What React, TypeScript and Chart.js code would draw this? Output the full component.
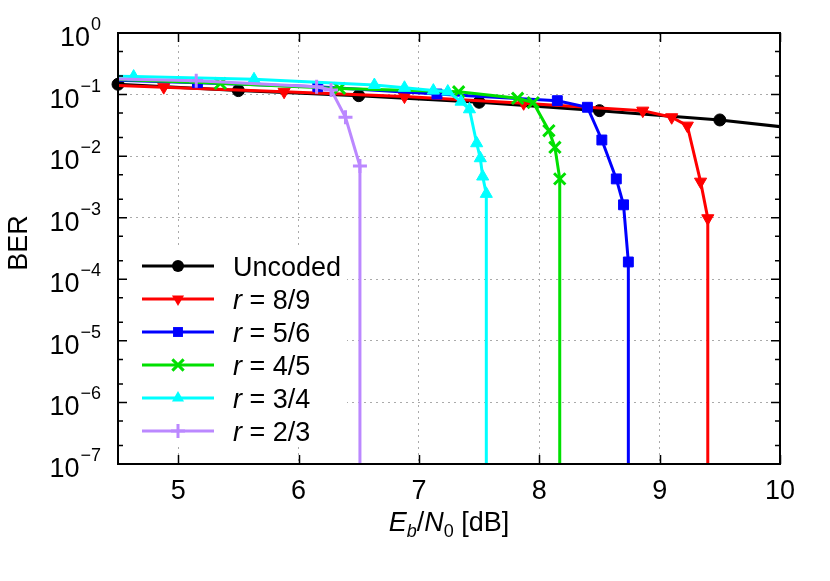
import React, { useEffect, useRef } from 'react';
import { Chart, registerables } from 'chart.js';

Chart.register(...registerables);

const FONT = '"Liberation Sans", Arial, Helvetica, sans-serif';

// ---- axis ticks ----
const xTickValues = [5, 6, 7, 8, 9, 10];
const yDecadeExponents = [-7, -6, -5, -4, -3, -2, -1, 0];
const yMinorMultipliers = [2, 5];

// BER reported where no errors were observed (below the plotted range)
const NO_ERRORS = 1e-10;

// ---- series (Eb/N0 in dB, BER) ----
const uncodedEbN0 = [4.5, 5.5, 6.5, 7.5, 8.5, 9.5, 10.5];
const uncodedBER = [0.147, 0.116, 0.096, 0.075, 0.0548, 0.0387, 0.0235];

const r89EbN0 = [3.88, 4.88, 5.88, 6.88, 7.87, 8.86, 9.1, 9.23, 9.34, 9.4, 9.4];
const r89BER = [0.157, 0.132, 0.111, 0.0927, 0.0722, 0.0548, 0.0428, 0.0313, 0.00385, 0.00098, NO_ERRORS];

const r56EbN0 = [4.15, 5.16, 6.16, 7.15, 8.15, 8.4, 8.52, 8.64, 8.7, 8.74, 8.74];
const r56BER = [0.18, 0.156, 0.134, 0.102, 0.0796, 0.0622, 0.0183, 0.00427, 0.00162, 0.000191, NO_ERRORS];

const r45EbN0 = [4.35, 5.35, 6.34, 7.33, 7.82, 7.95, 8.08, 8.13, 8.17, 8.17];
const r45BER = [0.18, 0.152, 0.126, 0.111, 0.087, 0.074, 0.0259, 0.0139, 0.00427, NO_ERRORS];

const r34EbN0 = [3.63, 4.63, 5.63, 6.63, 6.88, 7.12, 7.24, 7.35, 7.42, 7.48, 7.51, 7.53, 7.56, 7.56];
const r34BER = [0.22, 0.196, 0.177, 0.143, 0.129, 0.116, 0.112, 0.0767, 0.0577, 0.0162, 0.00925, 0.00467, 0.00244, NO_ERRORS];

const r23EbN0 = [4.15, 5.15, 6.15, 6.27, 6.39, 6.51, 6.51];
const r23BER = [0.185, 0.168, 0.134, 0.119, 0.0428, 0.00693, NO_ERRORS];

const seriesLabels = ['Uncoded', '8/9', '5/6', '4/5', '3/4', '2/3'];
const seriesColors = ['#000000', '#ff0000', '#0000ff', '#00e000', '#00ffff', '#bb88ff'];
const seriesStyles = ['circle', 'triangleDown', 'rect', 'crossRot', 'triangle', 'cross'];
const seriesRadius = [6, 7, 7, 8, 7, 7];

const seriesX = [uncodedEbN0, r89EbN0, r56EbN0, r45EbN0, r34EbN0, r23EbN0];
const seriesY = [uncodedBER, r89BER, r56BER, r45BER, r34BER, r23BER];

const TICK_PX = 27;
const EXP_PX = 18;

function drawMarker(ctx: CanvasRenderingContext2D, style: string, x: number, y: number, r: number, color: string) {
  ctx.save();
  ctx.fillStyle = color;
  ctx.strokeStyle = color;
  ctx.lineWidth = 3;
  ctx.beginPath();
  if (style === 'circle') {
    ctx.arc(x, y, r, 0, Math.PI * 2);
    ctx.fill();
  } else if (style === 'triangle') {
    ctx.moveTo(x, y - r);
    ctx.lineTo(x + r * 0.866, y + r / 2);
    ctx.lineTo(x - r * 0.866, y + r / 2);
    ctx.closePath();
    ctx.fill();
  } else if (style === 'triangleDown') {
    ctx.moveTo(x, y + r);
    ctx.lineTo(x + r * 0.866, y - r / 2);
    ctx.lineTo(x - r * 0.866, y - r / 2);
    ctx.closePath();
    ctx.fill();
  } else if (style === 'rect') {
    const s = r * Math.SQRT1_2;
    ctx.rect(x - s, y - s, 2 * s, 2 * s);
    ctx.fill();
  } else if (style === 'crossRot') {
    const d = r * Math.SQRT1_2;
    ctx.moveTo(x - d, y - d);
    ctx.lineTo(x + d, y + d);
    ctx.moveTo(x + d, y - d);
    ctx.lineTo(x - d, y + d);
    ctx.stroke();
  } else if (style === 'cross') {
    ctx.moveTo(x - r, y);
    ctx.lineTo(x + r, y);
    ctx.moveTo(x, y - r);
    ctx.lineTo(x, y + r);
    ctx.stroke();
  }
  ctx.restore();
}

const extrasPlugin = {
  id: 'extras',
  afterDatasetsDraw(chart: any) {
    const ctx: CanvasRenderingContext2D = chart.ctx;
    const { left } = chart.chartArea;
    // legend (opaque key box)
    ctx.save();
    ctx.fillStyle = '#ffffff';
    ctx.fillRect(left + 1, 247, 346 - left, 200);
    const rowY0 = 266;
    const rowStep = 33;
    seriesLabels.forEach((lab, i) => {
      const y = rowY0 + i * rowStep;
      ctx.strokeStyle = seriesColors[i];
      ctx.lineWidth = 3;
      ctx.beginPath();
      ctx.moveTo(142, y);
      ctx.lineTo(214, y);
      ctx.stroke();
      drawMarker(ctx, seriesStyles[i], 178, y, seriesRadius[i], seriesColors[i]);
      ctx.fillStyle = '#000';
      ctx.textBaseline = 'alphabetic';
      ctx.textAlign = 'left';
      const base = y + 10;
      if (i === 0) {
        ctx.font = `27px ${FONT}`;
        ctx.fillText(lab, 233, base);
      } else {
        ctx.font = `italic 27px ${FONT}`;
        ctx.fillText('r', 233, base);
        const w = ctx.measureText('r').width;
        ctx.font = `27px ${FONT}`;
        ctx.fillText(' = ' + lab, 233 + w, base);
      }
    });
    ctx.restore();
  },
  afterDraw(chart: any) {
    const ctx: CanvasRenderingContext2D = chart.ctx;
    const { left, right, top, bottom } = chart.chartArea;
    const xs = chart.scales.x;
    const ys = chart.scales.y;
    ctx.save();
    // tick marks (inward)
    ctx.strokeStyle = '#000';
    ctx.lineWidth = 1.5;
    ctx.beginPath();
    xTickValues.forEach((v) => {
      const px = Math.round(xs.getPixelForValue(v)) + 0.5;
      ctx.moveTo(px, bottom);
      ctx.lineTo(px, bottom - 9);
      ctx.moveTo(px, top);
      ctx.lineTo(px, top + 9);
    });
    yDecadeExponents.forEach((e) => {
      const py = ys.getPixelForValue(Math.pow(10, e));
      ctx.moveTo(left, py);
      ctx.lineTo(left + 9, py);
      ctx.moveTo(right, py);
      ctx.lineTo(right - 9, py);
      if (e < 0) {
        yMinorMultipliers.forEach((m) => {
          const pm = ys.getPixelForValue(m * Math.pow(10, e));
          ctx.moveTo(left, pm);
          ctx.lineTo(left + 5, pm);
          ctx.moveTo(right, pm);
          ctx.lineTo(right - 5, pm);
        });
      }
    });
    ctx.stroke();
    // frame
    ctx.lineWidth = 2;
    ctx.strokeRect(left, top, right - left, bottom - top);

    // y tick labels 10^e
    ctx.fillStyle = '#000';
    ctx.textBaseline = 'alphabetic';
    ctx.textAlign = 'left';
    const labelRight = 101;
    yDecadeExponents.forEach((e) => {
      const py = ys.getPixelForValue(Math.pow(10, e));
      const expText = e < 0 ? '\u2212' + String(-e) : String(e);
      ctx.font = `${EXP_PX}px ${FONT}`;
      const ew = ctx.measureText(expText).width;
      ctx.font = `${TICK_PX}px ${FONT}`;
      const bw = ctx.measureText('10').width;
      const bx = labelRight - ew - bw - 1;
      ctx.fillText('10', bx, py + 13);
      ctx.font = `${EXP_PX}px ${FONT}`;
      ctx.fillText(expText, bx + bw + 1, py - 3);
    });

    // x axis title: E_b/N_0 [dB]
    const pieces = [
      { t: 'E', f: `italic ${TICK_PX}px ${FONT}`, dy: 0 },
      { t: 'b', f: `italic ${EXP_PX}px ${FONT}`, dy: 6 },
      { t: '/', f: `${TICK_PX}px ${FONT}`, dy: 0 },
      { t: 'N', f: `italic ${TICK_PX}px ${FONT}`, dy: 0 },
      { t: '0', f: `${EXP_PX}px ${FONT}`, dy: 6 },
      { t: ' [dB]', f: `${TICK_PX}px ${FONT}`, dy: 0 },
    ];
    let total = 0;
    const widths = pieces.map((p) => {
      ctx.font = p.f;
      const w = ctx.measureText(p.t).width;
      total += w;
      return w;
    });
    let cx = (left + right) / 2 - total / 2;
    const baseY = 531;
    pieces.forEach((p, i) => {
      ctx.font = p.f;
      ctx.fillText(p.t, cx, baseY + p.dy);
      cx += widths[i];
    });

    // y axis title
    ctx.translate(20, 243);
    ctx.rotate(-Math.PI / 2);
    ctx.font = `${TICK_PX}px ${FONT}`;
    ctx.textAlign = 'center';
    ctx.textBaseline = 'middle';
    ctx.fillText('BER', 0, 0);
    ctx.restore();
  },
};

function buildDatasets() {
  const orders = [5, 4, 3, 2, 1, 0];
  return seriesLabels.map((lab, i) => {
    const style = seriesStyles[i];
    const isCross = style === 'cross' || style === 'crossRot';
    const chartStyle = style === 'triangleDown' ? 'triangle' : style;
    return {
      label: i === 0 ? lab : 'r = ' + lab,
      data: seriesX[i].map((x, k) => ({ x, y: seriesY[i][k] })),
      borderColor: seriesColors[i],
      backgroundColor: seriesColors[i],
      borderWidth: 3,
      tension: 0,
      pointStyle: chartStyle,
      pointRotation: style === 'triangleDown' ? 180 : 0,
      pointRadius: seriesRadius[i],
      pointBackgroundColor: seriesColors[i],
      pointBorderColor: seriesColors[i],
      pointBorderWidth: isCross ? 3 : 1,
      order: orders[i],
      clip: i === 0 ? { left: 8, top: 0, right: 0, bottom: 0 } : 0,
    };
  });
}

export default function App() {
  const ref = useRef<HTMLCanvasElement>(null);
  useEffect(() => {
    document.body.style.margin = '0';
    const chart = new Chart(ref.current as HTMLCanvasElement, {
      type: 'line',
      data: { datasets: buildDatasets() as any },
      options: {
        animation: false,
        responsive: false,
        events: [],
        layout: { padding: { top: 33, right: 50, left: 0, bottom: 0 } },
        plugins: { legend: { display: false }, tooltip: { enabled: false } },
        scales: {
          x: {
            type: 'linear',
            min: 4.5,
            max: 10,
            afterBuildTicks: (s: any) => {
              s.ticks = xTickValues.map((value) => ({ value }));
            },
            afterFit: (s: any) => {
              s.height = 117;
            },
            ticks: {
              font: { family: FONT, size: TICK_PX },
              color: '#000',
              padding: 11,
              maxRotation: 0,
              callback: (v: any) => String(v),
            },
            grid: {
              color: '#aaaaaa',
              lineWidth: 1,
              drawTicks: false,
            },
            border: { display: false, dash: [2, 4] },
          },
          y: {
            type: 'logarithmic',
            min: 1e-7,
            max: 1,
            afterBuildTicks: (s: any) => {
              s.ticks = yDecadeExponents.map((e) => ({ value: Math.pow(10, e) }));
            },
            afterFit: (s: any) => {
              s.width = 118;
            },
            ticks: { display: false },
            grid: {
              color: '#aaaaaa',
              lineWidth: 1,
              drawTicks: false,
            },
            border: { display: false, dash: [2, 4] },
          },
        },
      },
      plugins: [extrasPlugin],
    });
    return () => chart.destroy();
  }, []);
  return (
    <div style={{ width: 830, height: 581, position: 'relative' }}>
      <canvas ref={ref} width={830} height={581} style={{ display: 'block', width: 830, height: 581 }} />
    </div>
  );
}
